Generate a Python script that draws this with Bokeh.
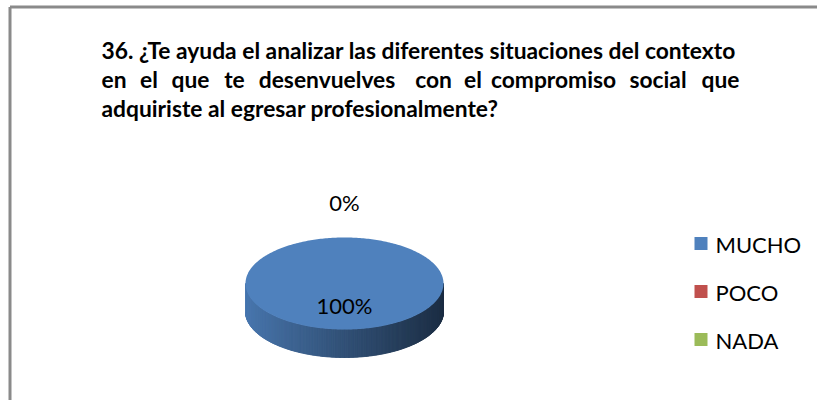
import math

from bokeh.core.properties import value
from bokeh.embed import file_html
from bokeh.models import Range1d
from bokeh.plotting import figure
from bokeh.resources import INLINE

# Survey answers
categories = ["MUCHO", "POCO", "NADA"]
values = [100, 0, 0]
colors = ["#4F81BD", "#C0504D", "#9BBB59"]

title_lines = [
    "36. ¿Te ayuda el analizar las diferentes situaciones del contexto",
    "en el que te desenvuelves con el compromiso social que",
    "adquiriste al egresar profesionalmente?",
]

W, H = 817, 400
TITLE_FONT = "Lato"
TITLE_SIZE = "22.8px"
LABEL_FONT = "Lato"

p = figure(width=W, height=H, output_backend="svg", toolbar_location=None,
           x_range=Range1d(0, W), y_range=Range1d(H, 0), min_border=0)
p.axis.visible = False
p.grid.visible = False
p.outline_line_color = None
p.background_fill_color = "white"
p.border_fill_color = "white"

# chart area frame (left and top edges fall inside the page)
p.multi_line(xs=[[9.5, 9.5], [9.5, W + 20]], ys=[[H + 20, 6.5], [6.5, 6.5]],
             line_color="#8A8A8A", line_width=3)

# ---- title: first and last lines as one run, middle line justified word by word
tx0, tx1 = 101, 739
base = [49, 78, 107]
title_style = dict(text_font=value(TITLE_FONT), text_font_style="bold",
                   text_font_size=TITLE_SIZE, text_baseline="alphabetic",
                   text_color="black")
p.text(x=[tx0], y=[base[0]], text=[title_lines[0]], **title_style)
words = title_lines[1].split()
# centres of the inner words of the justified line
word_cx = [148.5, 190, 234, 326.5, 433, 472.5, 553, 657.5]
p.text(x=[tx0], y=[base[1]], text=[words[0]], **title_style)
p.text(x=word_cx, y=[base[1]] * len(word_cx), text=words[1:-1], text_align="center",
       **title_style)
p.text(x=[tx1], y=[base[1]], text=[words[-1]], text_align="right", **title_style)
p.text(x=[tx0], y=[base[2]], text=[title_lines[2]], **title_style)

# ---- 3D pie geometry (screen pixels, y grows downward)
cx, cy, rx, ry, depth = 344, 283, 99, 46, 28


def pt(theta):
    return cx + rx * math.sin(theta), cy - ry * math.cos(theta)


def shade(hex_color, f):
    h = hex_color.lstrip("#")
    r, g, b = (int(h[i:i + 2], 16) for i in (0, 2, 4))
    return "#%02x%02x%02x" % (int(r * f), int(g * f), int(b * f))


def mix(c1, c2, t):
    a = [int(c1[i:i + 2], 16) for i in (1, 3, 5)]
    b = [int(c2[i:i + 2], 16) for i in (1, 3, 5)]
    return "#%02x%02x%02x" % tuple(int(round(a[k] + (b[k] - a[k]) * t)) for k in range(3))


total = sum(values)
slices = []
start = 0.0
for cat, v, c in zip(categories, values, colors):
    span = 2 * math.pi * v / total
    slices.append((cat, v, c, start, start + span))
    start += span

# side walls: front half only (theta between 90° and 270°), shaded left to right
wall_xs, wall_ys, wall_cols = [], [], []
steps = 240
for cat, v, c, a0, a1 in slices:
    if v == 0:
        continue
    lo, hi = max(a0, math.pi / 2), min(a1, 3 * math.pi / 2)
    if hi <= lo:
        continue
    light, dark = shade(c, 0.93), shade(c, 0.36)
    n = max(2, int(steps * (hi - lo) / math.pi))
    for i in range(n):
        t0 = lo + (hi - lo) * i / n
        t1 = lo + (hi - lo) * (i + 1) / n
        x0, y0 = pt(t0)
        x1, y1 = pt(t1)
        xm = (x0 + x1) / 2
        f = (xm - (cx - rx)) / (2 * rx)
        col = mix(light, dark, f ** 0.9)
        wall_xs.append([x0, x1, x1, x0])
        wall_ys.append([y0, y1, y1 + depth, y0 + depth])
        wall_cols.append(col)
p.patches(xs=wall_xs, ys=wall_ys, fill_color=wall_cols, line_color=wall_cols,
          line_width=1)

# top faces
for cat, v, c, a0, a1 in slices:
    if v == 0:
        continue
    n = max(4, int(360 * (a1 - a0) / (2 * math.pi)))
    xs, ys = ([cx], [cy]) if v < total else ([], [])
    for i in range(n + 1):
        x, y = pt(a0 + (a1 - a0) * i / n)
        xs.append(x)
        ys.append(y)
    p.patch(xs, ys, fill_color=c, line_color=None)

# data labels
seen = set()
lab_x, lab_y, lab_t = [], [], []
for cat, v, c, a0, a1 in slices:
    mid = (a0 + a1) / 2
    txt = "%d%%" % round(100 * v / total)
    if v == 0:
        x = cx + (rx + 35) * math.sin(mid)
        y = cy - (ry + 35) * math.cos(mid)
    else:
        x = cx + 0.48 * rx * math.sin(mid)
        y = cy - 0.48 * ry * math.cos(mid)
    key = (txt, round(x), round(y))
    if key in seen:
        continue
    seen.add(key)
    lab_x.append(x)
    lab_y.append(y)
    lab_t.append(txt)
p.text(x=lab_x, y=lab_y, text=lab_t, text_font=value(LABEL_FONT), text_font_size="22px",
       text_align="center", text_baseline="middle", text_color="black")

# legend
leg_x, leg_y0, leg_dy = 700.5, 243, 48
leg_ys = [leg_y0 + i * leg_dy for i in range(len(categories))]
p.rect(x=[leg_x] * len(categories), y=leg_ys, width=13, height=13,
       fill_color=colors, line_color=None)
p.text(x=[715] * len(categories), y=[yy + 1 for yy in leg_ys], text=categories,
       text_font=value(LABEL_FONT), text_font_size="22px", text_baseline="middle",
       text_color="black")

open("out.html", "w").write(file_html(p, INLINE))
